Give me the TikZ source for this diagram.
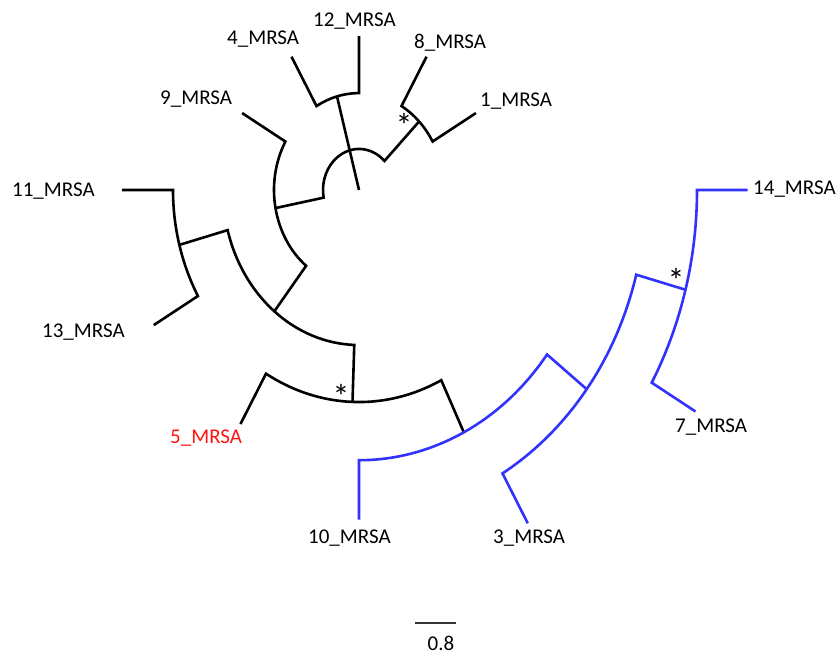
\documentclass[tikz,border=0pt]{standalone}
\usepackage{fontspec}
\setmainfont{Carlito}
\definecolor{cladeblue}{RGB}{50,50,255}
\definecolor{labelred}{RGB}{255,20,20}
\tikzset{
  branch/.style={line width=2.6pt, draw=black},
  bluebranch/.style={line width=2.6pt, draw=cladeblue},
  taxon/.style={font=\fontsize{21}{25}\selectfont, inner sep=0pt, anchor=base west},
  support/.style={font=\fontsize{34}{40}\selectfont, inner sep=0pt, anchor=base},
  scalebar/.style={line width=1.2pt, draw=black!80},
}
\begin{document}
\begin{tikzpicture}[x=1pt,y=1pt]
\useasboundingbox (0,0) rectangle (838,654);

% polar tree, slightly stretched vertically
\begin{scope}[shift={(359,464)}, yscale=1.14]
  % root and internal nodes
  \coordinate (root) at (0,0);
  \coordinate (nA)  at (45:85);     \coordinate (nAi) at (45:36);
  \coordinate (nB)  at (105:85);
  \coordinate (nC)  at (190.75:85);
  \coordinate (nE)  at (231.5:136);
  \coordinate (nF)  at (195:186);   \coordinate (nFi) at (195:136);
  \coordinate (nG)  at (268:186);
  \coordinate (nH)  at (296.25:237);
  \coordinate (nI)  at (322.5:287);
  \coordinate (nJ)  at (345:338);
  % leaves: inner end (i) and tip (t)
  \coordinate (i1)  at (30:85);     \coordinate (t1)  at (30:135);
  \coordinate (i8)  at (60:85);     \coordinate (t8)  at (60:135);
  \coordinate (i12) at (90:85);     \coordinate (t12) at (90:135);
  \coordinate (i4)  at (120:85);    \coordinate (t4)  at (120:135);
  \coordinate (i9)  at (150:85);    \coordinate (t9)  at (150:135);
  \coordinate (i11) at (180:186);   \coordinate (t11) at (180:237);
  \coordinate (i13) at (210:186);   \coordinate (t13) at (210:237);
  \coordinate (i5)  at (240:186);   \coordinate (t5)  at (240:237);
  \coordinate (i10) at (270:237);   \coordinate (t10) at (270:289);
  \coordinate (i3)  at (300:287);   \coordinate (t3)  at (300:337.5);
  \coordinate (i7)  at (330:338);   \coordinate (t7)  at (330:388.5);
  \coordinate (i14) at (360:338);   \coordinate (t14) at (360:388.5);

  % black part of the tree
  \draw[branch] (root) -- (nB);
  \draw[branch] (nA) -- (nAi) arc[start angle=45, end angle=190.75, radius=36] -- (nC);
  \draw[branch] (t8) -- (i8) arc[start angle=60, end angle=30, radius=85] -- (t1);
  \draw[branch] (t12) -- (i12) arc[start angle=90, end angle=120, radius=85] -- (t4);
  \draw[branch] (t9) -- (i9) arc[start angle=150, end angle=231.5, radius=85] -- (nE);
  \draw[branch] (nF) -- (nFi) arc[start angle=195, end angle=268, radius=136] -- (nG);
  \draw[branch] (t11) -- (i11) arc[start angle=180, end angle=210, radius=186] -- (t13);
  \draw[branch] (t5) -- (i5) arc[start angle=240, end angle=296.25, radius=186] -- (nH);
  % blue clade
  \draw[bluebranch] (t10) -- (i10) arc[start angle=270, end angle=322.5, radius=237] -- (nI);
  \draw[bluebranch] (t3) -- (i3) arc[start angle=300, end angle=345, radius=287] -- (nJ);
  \draw[bluebranch] (t7) -- (i7) arc[start angle=330, end angle=360, radius=338] -- (t14);
\end{scope}

% taxon labels
\node[taxon] (L14) at (753,459) {14\_MRSA};
\node[taxon] (L7)  at (675,222) {7\_MRSA};
\node[taxon] (L3)  at (493,111) {3\_MRSA};
\node[taxon] (L10) at (308,111) {10\_MRSA};
\node[taxon, text=labelred] (L5) at (170,211) {5\_MRSA};
\node[taxon] (L13) at (42,316)  {13\_MRSA};
\node[taxon] (L11) at (12,457)  {11\_MRSA};
\node[taxon] (L9)  at (160,549) {9\_MRSA};
\node[taxon] (L4)  at (227,609) {4\_MRSA};
\node[taxon] (L12) at (313,627) {12\_MRSA};
\node[taxon] (L8)  at (414,605) {8\_MRSA};
\node[taxon] (L1)  at (480,547) {1\_MRSA};

% support marks
\node[support] (sA) at (404,516) {*};
\node[support] (sG) at (341,245) {*};
\node[support] (sJ) at (676,361) {*};

% scale bar
\coordinate (sb0) at (415,31);
\coordinate (sb1) at (456,31);
\draw[scalebar] (sb0) -- (sb1);
\node[font=\fontsize{21}{25}\selectfont, inner sep=0pt, anchor=base] (sbl) at (441,4) {0.8};
\end{tikzpicture}
\end{document}
